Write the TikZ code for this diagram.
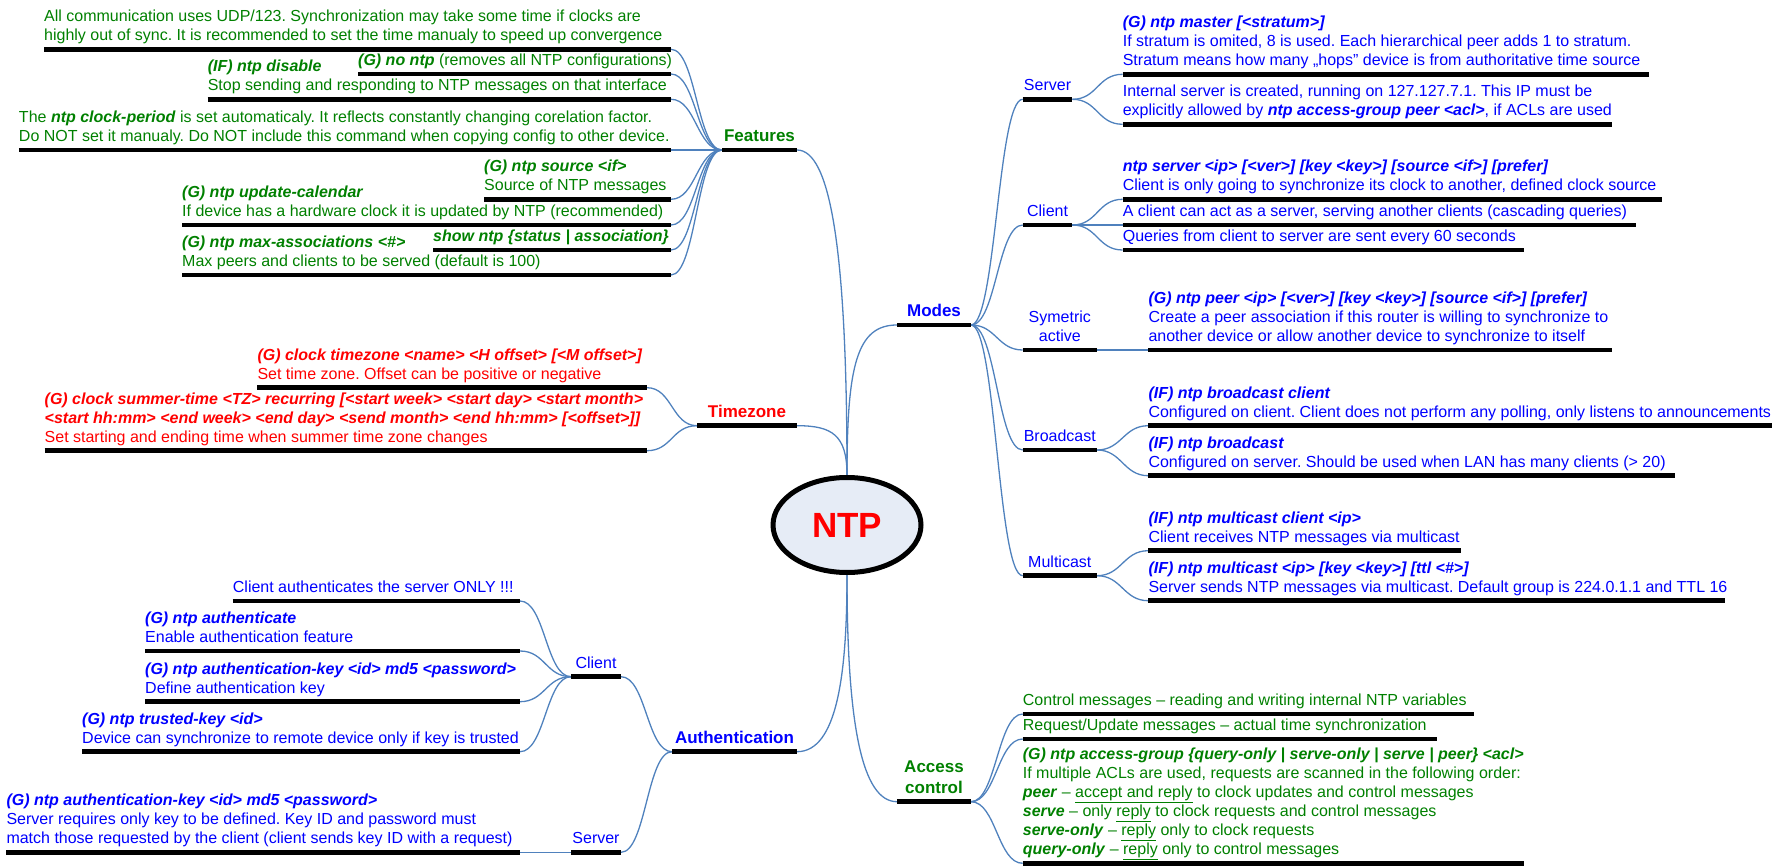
\documentclass[tikz,border=0pt]{standalone}
\usepackage{fontspec}
\setmainfont{Liberation Sans}
\usetikzlibrary{shapes.geometric,backgrounds}
\frenchspacing

\definecolor{mmgreen}{RGB}{0,128,0}
\definecolor{mmblue}{RGB}{0,0,255}
\definecolor{mmred}{RGB}{255,0,0}
\definecolor{linkblue}{RGB}{79,129,189}
\definecolor{hubfill}{RGB}{230,236,246}

\newcommand\bi[1]{\textbf{\textit{#1}}}
\newcommand\leaffont{\fontsize{16}{19}\selectfont}
\newcommand\headfont{\fontsize{17}{21}\selectfont\bfseries}

\tikzset{
  barline/.style={line width=4.5pt, draw=black},
  conn/.style={draw=linkblue, line width=1.3pt},
  leaf/.style={anchor=south west, inner sep=0pt, align=left, font=\leaffont,
               yshift=2.6pt, execute at end node=\strut},
  sub/.style={anchor=south, inner sep=0pt, align=center, font=\leaffont,
              yshift=2.6pt, execute at end node=\strut},
  head/.style={anchor=south, inner sep=0pt, align=center, font=\headfont,
               yshift=2pt, execute at end node=\strut},
  tgreen/.style={text=mmgreen},
  tblue/.style={text=mmblue},
  tred/.style={text=mmred},
}

% a topic: black underline bar with named end points
\newcommand\mmbar[4]{\draw[barline] (#2,#4) coordinate (#1-l) -- (#3,#4) coordinate (#1-r);}
% leaf text, left aligned on its bar
\newcommand\mmleaf[6]{\mmbar{#1}{#2}{#3}{#4}\node[leaf,#5] (#1) at (#1-l) {#6};}
% sub-topic label, centred on its bar
\newcommand\mmsub[6]{\mmbar{#1}{#2}{#3}{#4}\node[sub,#5] (#1) at ({(#2+#3)/2},#4) {#6};}
% main topic label, bold, centred on its bar
\newcommand\mmhead[6]{\mmbar{#1}{#2}{#3}{#4}\node[head,#5] (#1) at ({(#2+#3)/2},#4) {#6};}
% curved link from the right end of one bar to the left end of another
\newcommand\mmlink[2]{\draw[conn] (#1-r) .. controls +(25,0) and +(-25,0) .. (#2-l);}

\begin{document}
\begin{tikzpicture}[x=1pt,y=-1pt]
\useasboundingbox (0,0) rectangle (1775,866);

% ---------- central topic ----------
\node[ellipse, draw=black, line width=5pt, fill=hubfill, minimum width=148pt,
      minimum height=95pt, inner sep=0pt, text=mmred,
      font=\fontsize{35}{40}\selectfont\bfseries] (ntp) at (847,525) {NTP};

% ---------- Features ----------
\mmhead{features}{722}{797}{150}{tgreen}{Features}
\mmleaf{f1}{44}{671}{49.3}{tgreen}{All communication uses UDP/123. Synchronization may take some time if clocks are\\highly out of sync. It is recommended to set the time manualy to speed up convergence}
\mmleaf{f2}{358}{671}{74}{tgreen}{\bi{(G) no ntp} (removes all NTP configurations)}
\mmleaf{f3}{207.6}{671}{99.3}{tgreen}{\bi{(IF) ntp disable}\\Stop sending and responding to NTP messages on that interface}
\mmleaf{f4}{18.8}{671}{150}{tgreen}{The \bi{ntp clock-period} is set automaticaly. It reflects constantly changing corelation factor.\\Do NOT set it manualy. Do NOT include this command when copying config to other device.}
\mmleaf{f5}{484}{671}{199.3}{tgreen}{\bi{(G) ntp source <if>}\\Source of NTP messages}
\mmleaf{f6}{182}{671}{225}{tgreen}{\bi{(G) ntp update-calendar}\\If device has a hardware clock it is updated by NTP (recommended)}
\mmleaf{f7}{433}{671}{250}{tgreen}{\bi{show ntp \{status | association\}}}
\mmleaf{f8}{182}{671}{275}{tgreen}{\bi{(G) ntp max-associations <\#>}\\Max peers and clients to be served (default is 100)}

% ---------- Timezone ----------
\mmhead{timezone}{697}{797}{425.7}{tred}{Timezone}
\mmleaf{t1}{257.3}{647}{387.7}{tred}{\bi{(G) clock timezone <name> <H offset> [<M offset>]}\\Set time zone. Offset can be positive or negative}
\mmleaf{t2}{44.5}{647}{450.7}{tred}{\bi{(G) clock summer-time <TZ> recurring [<start week> <start day> <start month>}\\\bi{<start hh:mm> <end week> <end day> <send month> <end hh:mm> [<offset>]]}\\Set starting and ending time when summer time zone changes}

% ---------- Authentication ----------
\mmhead{auth}{672}{797}{751.7}{tblue}{Authentication}
\mmsub{aclient}{571}{621}{676.7}{tblue}{Client}
\mmsub{aserver}{571}{621}{852.3}{tblue}{Server}
\mmleaf{ac1}{232.7}{520}{601}{tblue}{Client authenticates the server ONLY !!!}
\mmleaf{ac2}{145}{520}{651}{tblue}{\bi{(G) ntp authenticate}\\Enable authentication feature}
\mmleaf{ac3}{145}{520}{701.7}{tblue}{\bi{(G) ntp authentication-key <id> md5 <password>}\\Define authentication key}
\mmleaf{ac4}{82}{520}{751.7}{tblue}{\bi{(G) ntp trusted-key <id>}\\Device can synchronize to remote device only if key is trusted}
\mmleaf{as1}{6.3}{520}{852.3}{tblue}{\bi{(G) ntp authentication-key <id> md5 <password>}\\Server requires only key to be defined. Key ID and password must\\match those requested by the client (client sends key ID with a request)}

% ---------- Modes ----------
\mmhead{modes}{897}{971}{325}{tblue}{Modes}
\mmsub{mserver}{1022.7}{1072.4}{99.3}{tblue}{Server}
\mmsub{mclient}{1022.7}{1072.4}{225}{tblue}{Client}
\mmsub{msym}{1022.7}{1096.9}{350}{tblue}{Symetric\\active}
\mmsub{mbcast}{1022.7}{1096.9}{450}{tblue}{Broadcast}
\mmsub{mmcast}{1022.7}{1096.9}{575.7}{tblue}{Multicast}
\mmleaf{ms1}{1122.6}{1649.4}{74.3}{tblue}{\bi{(G) ntp master [<stratum>]}\\If stratum is omited, 8 is used. Each hierarchical peer adds 1 to stratum.\\Stratum means how many „hops” device is from authoritative time source}
\mmleaf{ms2}{1122.6}{1611.7}{124.3}{tblue}{Internal server is created, running on 127.127.7.1. This IP must be\\explicitly allowed by \bi{ntp access-group peer <acl>}, if ACLs are used}
\mmleaf{mc1}{1122.6}{1662}{199.3}{tblue}{\bi{ntp server <ip> [<ver>] [key <key>] [source <if>] [prefer]}\\Client is only going to synchronize its clock to another, defined clock source}
\mmleaf{mc2}{1122.6}{1636.3}{225}{tblue}{A client can act as a server, serving another clients (cascading queries)}
\mmleaf{mc3}{1122.6}{1523.8}{250}{tblue}{Queries from client to server are sent every 60 seconds}
\mmleaf{my1}{1148.3}{1611.7}{350}{tblue}{\bi{(G) ntp peer <ip> [<ver>] [key <key>] [source <if>] [prefer]}\\Create a peer association if this router is willing to synchronize to\\another device or allow another device to synchronize to itself}
\mmleaf{mb1}{1148.3}{1772}{425.7}{tblue}{\bi{(IF) ntp broadcast client}\\Configured on client. Client does not perform any polling, only listens to announcements}
\mmleaf{mb2}{1148.3}{1674.5}{475.7}{tblue}{\bi{(IF) ntp broadcast}\\Configured on server. Should be used when LAN has many clients (> 20)}
\mmleaf{mm1}{1148.3}{1461}{550.7}{tblue}{\bi{(IF) ntp multicast client <ip>}\\Client receives NTP messages via multicast}
\mmleaf{mm2}{1148.3}{1724.7}{600.7}{tblue}{\bi{(IF) ntp multicast <ip> [key <key>] [ttl <\#>]}\\Server sends NTP messages via multicast. Default group is 224.0.1.1 and TTL 16}

% ---------- Access control ----------
\mmhead{access}{897}{971}{801.7}{tgreen}{Access\\control}
\mmleaf{ax1}{1022.7}{1473.6}{714}{tgreen}{Control messages – reading and writing internal NTP variables}
\mmleaf{ax2}{1022.7}{1436.5}{739}{tgreen}{Request/Update messages – actual time synchronization}
\mmleaf{ax3}{1022.7}{1523.8}{863.3}{tgreen}{\bi{(G) ntp access-group \{query-only | serve-only | serve | peer\} <acl>}\\If multiple ACLs are used, requests are scanned in the following order:\\\bi{peer} – \underline{accept and reply} to clock updates and control messages\\\bi{serve} – only \underline{reply} to clock requests and control messages\\\bi{serve-only} – \underline{reply} only to clock requests\\\bi{query-only} – \underline{reply} only to control messages}

% ---------- connectors ----------
\begin{scope}[on background layer]
  \draw[conn] (features-r) .. controls +(33,0) and +(0,-227.5) .. (ntp.north);
  \draw[conn] (timezone-r) .. controls +(35,0) and +(0,-40) .. (ntp.north);
  \draw[conn] (ntp.north) .. controls +(0,-110) and +(-40,0) .. (modes-l);
  \draw[conn] (auth-r) .. controls +(40,0) and +(0,100) .. (ntp.south);
  \draw[conn] (ntp.south) .. controls +(0,150) and +(-35,0) .. (access-l);

  \foreach \n in {f1,f2,f3,f4,f5,f6,f7,f8} {\mmlink{\n}{features}}
  \foreach \n in {t1,t2} {\mmlink{\n}{timezone}}
  \foreach \n in {ac1,ac2,ac3,ac4} {\mmlink{\n}{aclient}}
  \mmlink{as1}{aserver}
  \mmlink{aclient}{auth}
  \mmlink{aserver}{auth}

  \foreach \n in {mserver,mclient,msym,mbcast,mmcast} {\mmlink{modes}{\n}}
  \foreach \n in {ms1,ms2} {\mmlink{mserver}{\n}}
  \foreach \n in {mc1,mc2,mc3} {\mmlink{mclient}{\n}}
  \mmlink{msym}{my1}
  \foreach \n in {mb1,mb2} {\mmlink{mbcast}{\n}}
  \foreach \n in {mm1,mm2} {\mmlink{mmcast}{\n}}
  \foreach \n in {ax1,ax2,ax3} {\mmlink{access}{\n}}
\end{scope}
\end{tikzpicture}
\end{document}
